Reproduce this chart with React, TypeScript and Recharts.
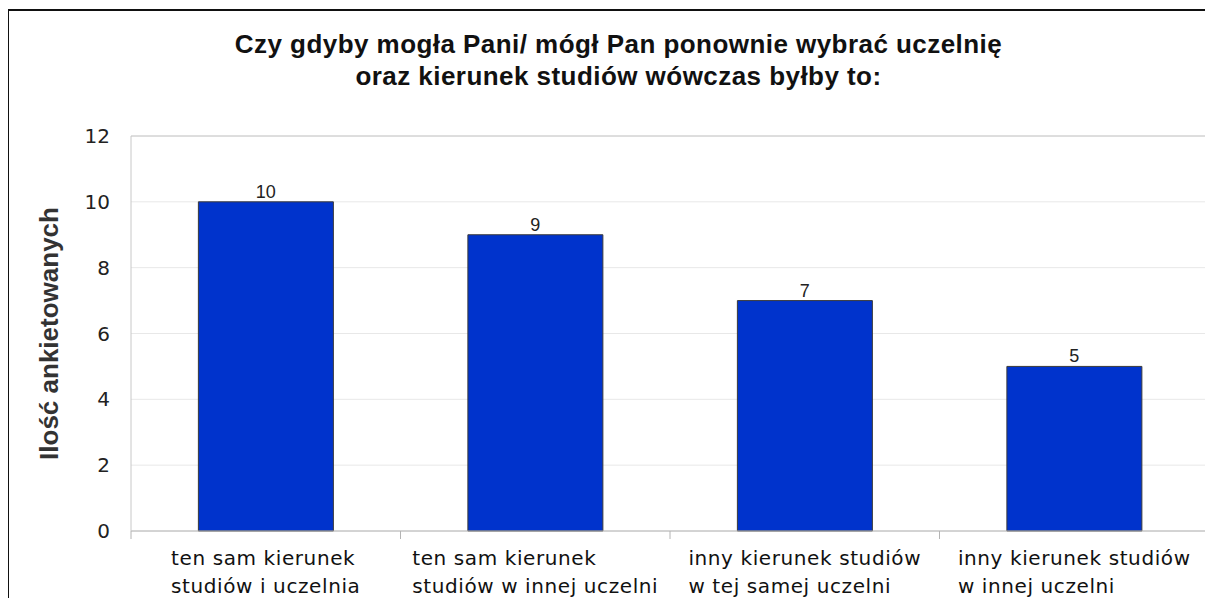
import React from 'react'
import {
  BarChart,
  Bar,
  XAxis,
  YAxis,
  CartesianGrid,
  LabelList
} from 'recharts'

const titleLines = [
  'Czy gdyby mogła Pani/ mógł Pan ponownie wybrać uczelnię',
  'oraz kierunek studiów wówczas byłby to:'
]
const yAxisTitle = 'Ilość ankietowanych'

const categories = [
  'ten sam kierunek\nstudiów i uczelnia',
  'ten sam kierunek\nstudiów w innej uczelni',
  'inny kierunek studiów\nw tej samej uczelni',
  'inny kierunek studiów\nw innej uczelni'
]
const counts = [10, 9, 7, 5]
const yTicks = [0, 2, 4, 6, 8, 10, 12]

const TICK_FONT = '"DejaVu Sans", sans-serif'
const TICK_SIZE = 20
const TICK_SPACING = 0.6

let measureCtx: CanvasRenderingContext2D | null = null
const measure = (s: string) => {
  if (!measureCtx) {
    measureCtx = document.createElement('canvas').getContext('2d')
  }
  if (!measureCtx) return s.length * 11
  measureCtx.font = `${TICK_SIZE}px ${TICK_FONT}`
  return measureCtx.measureText(s).width + s.length * TICK_SPACING
}

// category ticks: tick marks sit on the band edges, lines left-aligned in a centered block
function CategoryTick(props: any) {
  const { x, y, payload, index, visibleTicksCount } = props
  const lines = String(payload.value).split('\n')
  const half = payload.offset ?? 0
  const w = Math.max(...lines.map(measure))
  const left = x - w / 2
  return (
    <g>
      <line x1={x - half} y1={y - 8} x2={x - half} y2={y} stroke="#b4b4b4" />
      {index === visibleTicksCount - 1 && (
        <line x1={x + half} y1={y - 8} x2={x + half} y2={y} stroke="#b4b4b4" />
      )}
      <text
        x={left}
        y={y}
        fill="#111"
        fontFamily={TICK_FONT}
        fontSize={TICK_SIZE}
        letterSpacing={TICK_SPACING}
      >
        {lines.map((l, i) => (
          <tspan key={i} x={left} dy={i === 0 ? 26 : 28}>
            {l}
          </tspan>
        ))}
      </text>
    </g>
  )
}

const YTitle = (props: any) => {
  const { viewBox } = props
  const cx = viewBox.x - 19
  const cy = viewBox.y + viewBox.height / 2
  return (
    <text
      x={cx}
      y={cy}
      transform={`rotate(-90 ${cx} ${cy})`}
      textAnchor="middle"
      dominantBaseline="central"
      fontFamily='"Liberation Sans", Arial, sans-serif'
      fontWeight="bold"
      fontSize={26}
      fill="#333"
    >
      {yAxisTitle}
    </text>
  )
}

export default function App() {
  const data = categories.map((name, i) => ({ name, value: counts[i] }))

  return (
    <div style={{ position: 'relative', width: 1205, height: 590 }}>
      <div
        style={{
          position: 'absolute',
          left: -1,
          top: 1,
          width: 1206,
          height: 589,
          boxSizing: 'border-box',
          borderTop: '2px solid #111',
          borderLeft: '2px solid #111'
        }}
      />
      <div
        style={{
          position: 'absolute',
          left: 8,
          top: 20,
          width: 1205,
          textAlign: 'center',
          fontFamily: '"Liberation Sans", Arial, sans-serif',
          fontWeight: 'bold',
          fontSize: 26,
          lineHeight: '32px',
          letterSpacing: 0.45,
          color: '#111'
        }}
      >
        {titleLines.map((t, i) => (
          <div key={i}>{t}</div>
        ))}
      </div>
      <div style={{ position: 'absolute', left: 0, top: 0 }}>
        <BarChart
          width={1205}
          height={590}
          data={data}
          margin={{ top: 128, right: 4, bottom: 0, left: 60 }}
          barCategoryGap="25%"
        >
          <CartesianGrid vertical={false} stroke="#e8e8e8" />
          <CartesianGrid
            fill="none"
            stroke="#c8c8c8"
            horizontalCoordinatesGenerator={({ offset }: any) => [offset.top]}
            verticalCoordinatesGenerator={({ offset }: any) => [offset.left + offset.width]}
          />
          <XAxis
            dataKey="name"
            height={67}
            interval={0}
            tickLine={false}
            tickSize={8}
            tickMargin={0}
            axisLine={{ stroke: '#b4b4b4' }}
            tick={<CategoryTick />}
          />
          <YAxis
            width={63}
            domain={[0, 12]}
            ticks={yTicks}
            interval={0}
            tickLine={false}
            tickSize={0}
            tickMargin={21}
            axisLine={{ stroke: '#c8c8c8' }}
            tick={{ fontFamily: TICK_FONT, fontSize: 20, fill: '#222' }}
            label={<YTitle />}
          />
          <Bar
            dataKey="value"
            fill="#0033cc"
            stroke="#3a3a3a"
            strokeWidth={1}
            isAnimationActive={false}
          >
            <LabelList
              dataKey="value"
              position="top"
              offset={4}
              fill="#222"
              fontSize={18}
              fontFamily='"Liberation Sans", Arial, sans-serif'
            />
          </Bar>
        </BarChart>
      </div>
    </div>
  )
}
